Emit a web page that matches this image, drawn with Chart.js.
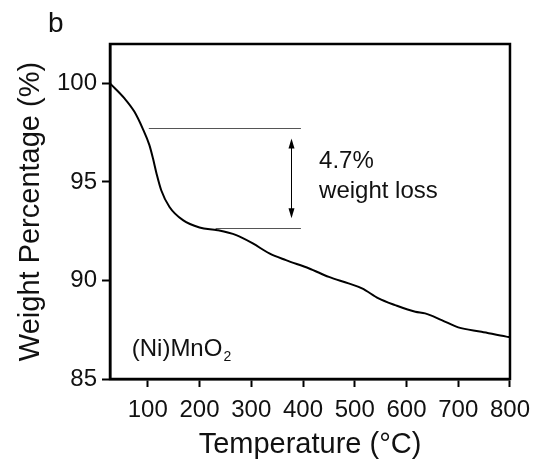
<!DOCTYPE html>
<html>
<head>
<meta charset="utf-8">
<script src="https://cdn.jsdelivr.net/npm/chart.js@4/dist/chart.umd.min.js"></script>
<style>
  html, body { margin: 0; padding: 0; background: #fff; }
  canvas { display: block; }
</style>
</head>
<body>
<canvas id="tga" width="539" height="467"></canvas>
<script>
// ── DATA ──
const temperature = [27, 55, 74, 90, 103, 110, 117, 126, 142, 168, 200, 235, 271, 303, 335, 367, 412, 450, 488, 514, 546, 578, 617, 636, 668, 700, 745, 793, 800];
const weightPct = [100.0, 99.24, 98.57, 97.72, 96.88, 96.2, 95.42, 94.58, 93.73, 93.06, 92.69, 92.55, 92.3, 91.88, 91.37, 91.03, 90.61, 90.18, 89.85, 89.6, 89.09, 88.75, 88.41, 88.33, 87.99, 87.62, 87.4, 87.15, 87.12];
const xTicks = [100, 200, 300, 400, 500, 600, 700, 800];
const yTicks = [85, 90, 95, 100];

// weight-loss guide lines: level, start temperature, end temperature
const guideLevels = [97.72, 92.65];
const guideStartT = [102, 231];
const guideEndT = [396, 396];
const arrowT = 377;
const arrowRange = [97.21, 93.16];
const lossText = ['4.7%', 'weight loss'];

const FONT = '"Liberation Sans", Arial, sans-serif';

// ── Frame + annotations drawn through the scales ──
const annotate = {
    id: 'annotate',
    afterDatasetsDraw(chart) {
        const {ctx, chartArea: a, scales: {x, y}} = chart;
        ctx.save();

        // guide lines
        ctx.strokeStyle = '#555';
        ctx.lineWidth = 1;
        guideLevels.forEach((lv, i) => {
            const py = Math.round(y.getPixelForValue(lv)) + 0.5;
            ctx.beginPath();
            ctx.moveTo(x.getPixelForValue(guideStartT[i]), py);
            ctx.lineTo(x.getPixelForValue(guideEndT[i]), py);
            ctx.stroke();
        });

        // double arrow
        const ax = Math.round(x.getPixelForValue(arrowT)) + 0.5;
        const y1 = y.getPixelForValue(arrowRange[0]);
        const y2 = y.getPixelForValue(arrowRange[1]);
        ctx.strokeStyle = '#000';
        ctx.beginPath();
        ctx.moveTo(ax, y1 + 6);
        ctx.lineTo(ax, y2 - 6);
        ctx.stroke();
        ctx.fillStyle = '#000';
        [[y1, 1], [y2, -1]].forEach(([py, dir]) => {
            ctx.beginPath();
            ctx.moveTo(ax, py);
            ctx.lineTo(ax - 3, py + dir * 10);
            ctx.lineTo(ax + 3, py + dir * 10);
            ctx.closePath();
            ctx.fill();
        });

        // labels
        ctx.fillStyle = '#111';
        ctx.textBaseline = 'alphabetic';
        ctx.textAlign = 'left';
        ctx.font = '24px ' + FONT;
        ctx.fillText(lossText[0], x.getPixelForValue(431), y.getPixelForValue(95.69));
        ctx.fillText(lossText[1], x.getPixelForValue(431), y.getPixelForValue(94.17));

        const sx = x.getPixelForValue(69), sy = y.getPixelForValue(86.16);
        ctx.fillText('(Ni)MnO', sx, sy);
        const w = ctx.measureText('(Ni)MnO').width;
        ctx.font = '14px ' + FONT;
        ctx.fillText('2', sx + w + 1, sy + 5);

        // panel letter
        ctx.font = '28px ' + FONT;
        ctx.fillText('b', 48, 32);

        // box around plot area
        ctx.strokeStyle = '#000';
        ctx.lineWidth = 2.5;
        ctx.strokeRect(a.left, a.top, a.right - a.left, a.bottom - a.top);
        ctx.restore();
    }
};

new Chart(document.getElementById('tga'), {
    type: 'line',
    data: {
        datasets: [{
            data: temperature.map((t, i) => ({x: t, y: weightPct[i]})),
            borderColor: '#000', borderWidth: 2,
            pointRadius: 0, fill: false,
            cubicInterpolationMode: 'monotone'
        }]
    },
    options: {
        responsive: false, animation: false,
        layout: {padding: {top: 44, right: 27, left: 0, bottom: 0}},
        plugins: {legend: {display: false}, tooltip: {enabled: false}},
        scales: {
            x: {
                type: 'linear', min: 27, max: 800,
                afterFit: s => { s.height = 88; },
                afterBuildTicks: s => { s.ticks = xTicks.map(v => ({value: v})); },
                grid: {drawOnChartArea: false, tickLength: 8, tickColor: '#000', tickWidth: 2},
                border: {color: '#000', width: 2.5},
                ticks: {color: '#111', font: {family: FONT, size: 24}, padding: 9, maxRotation: 0},
                title: {display: true, text: 'Temperature (°C)', color: '#111',
                    font: {family: FONT, size: 29}, padding: {top: 0, bottom: 5}}
            },
            y: {
                min: 85, max: 102,
                afterFit: s => { s.width = 110; },
                afterBuildTicks: s => { s.ticks = yTicks.map(v => ({value: v})); },
                grid: {drawOnChartArea: false, tickLength: 8, tickColor: '#000', tickWidth: 2},
                border: {color: '#000', width: 2.5},
                ticks: {color: '#111', font: {family: FONT, size: 24}, padding: 5},
                title: {display: true, text: 'Weight Percentage (%)', color: '#111',
                    font: {family: FONT, size: 29}, padding: {top: 14, bottom: 0}}
            }
        }
    },
    plugins: [annotate]
});
</script>
</body>
</html>
